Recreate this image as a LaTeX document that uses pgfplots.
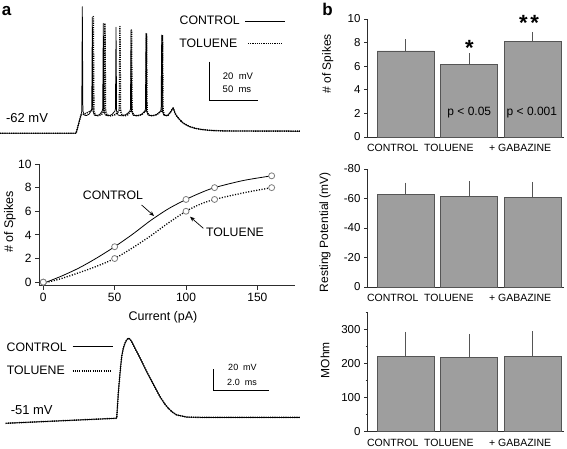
\documentclass[border=0pt]{standalone}
\usepackage{pgfplots}
\pgfplotsset{compat=1.18}
\usepackage{pgfplotstable}
\usepackage{fontspec}
\setmainfont{Liberation Sans}
\usetikzlibrary{arrows.meta}
\definecolor{barfill}{RGB}{158,158,158}
\definecolor{baredge}{RGB}{85,85,85}
\definecolor{axcol}{RGB}{45,45,45}
\definecolor{markgray}{RGB}{125,125,125}
\newcommand{\fs}[1]{\fontsize{#1}{#1}\selectfont}
\pgfplotsset{/pgf/number format/assume math mode=true}

% ---- panel a, top: spike trains (t in ms, V in mV)
\pgfplotstableread{
t V
0 -62
77.6 -62
82.7 -52.4
83.4 -50.5
84.0 4.1
84.6 -50.4
86.0 -52.5
88.0 -52.8
91.0 -52.0
93.0 -50.3
93.6 -49.3
94.2 -1.4
94.8 -50.4
96.2 -52.5
98.5 -52.8
101.5 -52.3
104.2 -50.5
104.8 -49.3
105.4 -4.6
106.0 -50.4
107.5 -52.5
110.5 -52.9
114.0 -52.3
117.2 -50.5
117.8 -49.3
118.4 -6.6
119.0 -50.4
120.5 -52.5
124.0 -52.9
128.5 -52.3
132.5 -50.5
133.1 -49.3
133.7 -8.1
134.3 -50.4
135.8 -52.5
139.5 -52.9
144.0 -52.3
147.8 -50.5
148.4 -49.3
149.0 -9.8
149.6 -50.4
151.1 -52.5
155.0 -52.9
159.5 -52.3
163.8 -50.5
164.4 -49.3
165.0 -10.7
165.6 -50.4
167.1 -52.5
170.5 -52.9
174.0 -51.0
176.2 -49.0
176.8 -48.8
178.6 -51.5
180.3 -53.0
183.7 -55.1
186.5 -56.5
191.0 -57.9
194.0 -58.6
199.0 -59.4
204.1 -59.9
210.0 -60.3
218.0 -60.6
230.0 -60.8
306.0 -60.9
}\trainctl

\pgfplotstableread{
t V
0 -62
77.6 -62
82.7 -52.4
86.0 -52.0
90.0 -51.0
93.5 -50.0
94.6 -49.3
95.2 -1.1
95.8 -50.4
97.3 -52.5
100.0 -52.8
103.5 -52.3
105.9 -50.5
106.5 -49.3
107.1 -4.6
107.7 -50.4
109.2 -52.5
113.0 -52.9
117.5 -52.3
121.2 -50.5
121.8 -49.3
122.4 -6.3
123.0 -50.4
124.5 -52.5
127.5 -52.9
130.5 -52.3
133.0 -50.5
133.6 -49.3
134.2 -8.1
134.8 -50.4
136.3 -52.5
140.0 -52.9
144.5 -52.3
148.3 -50.5
148.9 -49.3
149.5 -9.8
150.1 -50.4
151.6 -52.5
155.5 -52.9
160.0 -52.3
164.6 -50.5
165.2 -49.3
165.8 -10.7
166.4 -50.4
167.9 -52.5
171.0 -52.9
174.0 -51.0
176.2 -49.0
176.8 -48.8
178.6 -51.5
180.3 -53.0
183.7 -55.1
186.5 -56.5
191.0 -57.9
194.0 -58.6
199.0 -59.4
204.1 -59.9
210.0 -60.3
218.0 -60.6
230.0 -60.8
306.0 -60.9
}\traintol

% ---- panel a, bottom: single action potential (t in ms, V in mV)
\pgfplotstableread{
t V
0.2 -54.1
4.168 -49.4
4.225 -26.0
4.286 -7.4
4.346 8.2
4.404 16.0
4.46 20.5
4.525 23.8
4.582 25.4
4.64 24.6
4.704 22.2
4.761 19.1
5.0 7.0
5.239 -5.9
5.48 -17.8
5.714 -29.2
5.87 -35.5
6.011 -40.1
6.16 -43.7
6.311 -46.3
6.668 -48.3
7.2 -48.6
10.71 -48.6
}\apctl

\pgfplotstableread{
t V
0.2 -54.1
4.168 -49.4
4.225 -26.0
4.286 -7.4
4.346 8.2
4.404 16.0
4.46 20.5
4.525 23.8
4.582 25.4
4.64 24.6
4.704 22.2
4.761 19.1
5.0 7.0
5.239 -5.9
5.48 -17.8
5.714 -29.2
5.87 -35.5
6.011 -40.1
6.16 -43.7
6.311 -46.3
6.668 -48.3
7.2 -48.6
10.71 -48.6
}\aptol

% ---- panel a, middle: measured points and fitted curves
\pgfplotstableread{
I N
0 0
50 3
100 7
120 8
160 9
}\fictl
\pgfplotstableread{
I N
0 0
50 2
100 6
120 7
160 8
}\fitol
\pgfplotstableread{
I N
0 -0.1
12.5 0.5
25 1.2
37.5 2.05
50 3.0
62.5 4.05
75 5.2
87.5 6.2
100 7.0
110 7.55
120 8.0
140 8.6
160 9.0
}\fitctl
\pgfplotstableread{
I N
0 -0.1
12.5 0.3
25 0.8
37.5 1.35
50 2.0
62.5 2.9
75 3.9
87.5 5.0
100 6.0
110 6.6
120 7.0
140 7.55
160 8.0
}\fittol

\tikzset{
  solidtrace/.style={black, line width=0.75pt, line join=round},
  dottrace/.style={black, line width=1.45pt, dash pattern=on 1.1bp off 1.1bp, line join=round},
}
\pgfplotsset{
  barpanel/.style={
    scale only axis, width=196.3bp,
    xmin=0.402, xmax=3.49,
    axis x line=bottom, axis y line=left,
    axis line style={-, axcol, line width=0.8pt},
    tick style={axcol, line width=0.8pt},
    major tick length=3.7bp, minor tick length=2bp,
    tick align=outside,
    xtick={0.797,1.679,2.8},
    xticklabels={CONTROL,TOLUENE,+ GABAZINE},
    major x tick style={draw=none},
    xticklabel style={font=\fs{10.5bp}},
    yticklabel style={font=\fs{11.5bp}},
    ylabel style={font=\fs{12bp}},
    ybar, bar width=56.7bp,
    clip=false,
  },
  barplot/.style={fill=barfill, draw=baredge, line width=0.9pt,
    error bars/y explicit,
    error bars/error bar style={baredge, line width=0.8pt},
    error bars/error mark options={baredge, line width=0.8pt, mark size=2.2bp}},
}

\begin{document}
\begin{tikzpicture}
\path[use as bounding box] (0,0) rectangle (567bp,-449bp);

% panel letters
\node[anchor=base, inner sep=0, font=\fs{17bp}\bfseries] at (6.7bp,-15bp) {a};
\node[anchor=base, inner sep=0, font=\fs{17bp}\bfseries] at (327.5bp,-15bp) {b};

% ===== panel a top: spike trains
\begin{axis}[at={(0bp,-139bp)}, anchor=south west, x=0.98bp, y=1.915bp,
  xmin=0, xmax=306, ymin=-65, ymax=10, axis lines=none, clip=false]
\addplot[solidtrace] table[x=t, y=V] {\trainctl};
\addplot[dottrace] table[x=t, y=V] {\traintol};
\addplot[black, line width=0.8pt] coordinates {(213.6,-24.6) (213.6,-44.6) (263.6,-44.6)};
\end{axis}
\node[inner sep=0, font=\fs{12.3bp}] at (209.7bp,-20.7bp) {CONTROL};
\node[inner sep=0, font=\fs{12.3bp}] at (208.3bp,-43.3bp) {TOLUENE};
\draw[solidtrace] (245bp,-21.7bp) -- (285bp,-21.7bp);
\draw[dottrace] (248bp,-43.3bp) -- (283bp,-43.3bp);
\node[inner sep=0, font=\fs{9.5bp}] at (238bp,-76bp) {20~~mV};
\node[inner sep=0, font=\fs{9.5bp}] at (237bp,-89.3bp) {50~~ms};
\node[inner sep=0, font=\fs{13bp}] at (27bp,-118.3bp) {-62 mV};

% ===== panel a middle: spikes vs current
\begin{axis}[at={(39bp,-285.7bp)}, anchor=south west, scale only axis,
  width=255.5bp, height=121.7bp, xmin=-3, xmax=176, ymin=-0.3, ymax=10,
  axis x line=bottom, axis y line=left,
  axis line style={-, axcol, line width=0.8pt},
  tick style={axcol, line width=0.8pt}, tick align=outside, major tick length=4bp,
  xtick={0,50,100,150}, ytick={0,2,...,10},
  ticklabel style={font=\fs{12bp}},
  xlabel={Current (pA)}, ylabel={\# of Spikes},
  label style={font=\fs{12.5bp}},
  xlabel style={at={(axis description cs:0.4853,-0.257)}, anchor=center},
  ylabel style={at={(axis description cs:-0.1135,0.523)}, anchor=center},
  clip=false]
\addplot[black, line width=0.8pt, smooth] table[x=I, y=N] {\fitctl};
\addplot[black, line width=1.3pt, dash pattern=on 1.1bp off 1.6bp, smooth] table[x=I, y=N] {\fittol};
\addplot[only marks, mark=*, mark size=3bp, mark options={fill=white, draw=markgray, line width=0.8pt}] table[x=I, y=N] {\fictl};
\addplot[only marks, mark=*, mark size=3bp, mark options={fill=white, draw=markgray, line width=0.8pt}] table[x=I, y=N] {\fitol};
\node[inner sep=0, font=\fs{12.3bp}] at (axis cs:48.8,7.38) {CONTROL};
\node[inner sep=0, font=\fs{12.3bp}] at (axis cs:134.3,4.19) {TOLUENE};
\draw[-{Stealth[length=5bp,width=4bp]}, line width=0.7pt] (axis cs:68.9,6.53) -- (axis cs:77.6,5.6);
\draw[-{Stealth[length=5bp,width=4bp]}, line width=0.7pt] (axis cs:112.1,4.56) -- (axis cs:102.8,5.54);
\end{axis}

% ===== panel a bottom: single action potential
\begin{axis}[at={(0bp,-429.6bp)}, anchor=south west, x=28bp, y=1.07bp,
  xmin=0, xmax=10.8, ymin=-60, ymax=30, axis lines=none, clip=false]
\addplot[solidtrace] table[x=t, y=V] {\apctl};
\addplot[dottrace] table[x=t, y=V] {\aptol};
\addplot[black, line width=0.8pt] coordinates {(7.618,-3.6) (7.618,-23.6) (9.618,-23.6)};
\end{axis}
\node[inner sep=0, font=\fs{12.3bp}] at (36.7bp,-347.7bp) {CONTROL};
\node[inner sep=0, font=\fs{12.3bp}] at (35.8bp,-370.7bp) {TOLUENE};
\draw[solidtrace] (72.7bp,-346.7bp) -- (112.7bp,-346.7bp);
\draw[dottrace] (72.7bp,-371bp) -- (111bp,-371bp);
\node[inner sep=0, font=\fs{9bp}] at (242.5bp,-367.3bp) {20~~mV};
\node[inner sep=0, font=\fs{9bp}] at (242bp,-382.3bp) {2.0~~ms};
\node[inner sep=0, font=\fs{13bp}] at (31.7bp,-410bp) {-51 mV};

% ===== panel b top: number of spikes
\begin{axis}[barpanel, at={(367.7bp,-137bp)}, anchor=south west, height=118bp,
  ymin=0, ymax=10, ytick={0,2,...,10}, ylabel={\# of Spikes},
  ylabel style={at={(axis description cs:-0.204,0.619)}, anchor=center}]
\addplot[barplot, error bars/y dir=plus] coordinates {(1,7.29) +- (0,0.79) (2,6.16) +- (0,0.73) (3,8.10) +- (0,0.63)};
\node[inner sep=0, font=\fs{22bp}\bfseries] at (axis cs:2,7.55) {*};
\node[inner sep=0, font=\fs{22bp}\bfseries] at (axis cs:2.94,9.7) {*\hspace{2.5bp}*};
\node[inner sep=0, font=\fs{12bp}] at (axis cs:2,2.03) {p < 0.05};
\node[inner sep=0, font=\fs{12bp}] at (axis cs:2.985,2.03) {p < 0.001};
\end{axis}

% ===== panel b middle: resting potential
\begin{axis}[barpanel, at={(367.7bp,-287bp)}, anchor=south west, height=118bp,
  ymin=-80, ymax=0, y dir=reverse,
  ytick={0,-20,-40,-60,-80}, yticklabels={0,-20,-40,-60,-80},
  ylabel={Resting Potential (mV)},
  ylabel style={at={(axis description cs:-0.2175,0.4636)}, anchor=center}]
\addplot[barplot, error bars/y dir=minus] coordinates {(1,-62.8) +- (0,6.4) (2,-61.5) +- (0,8.8) (3,-60.6) +- (0,9.2)};
\end{axis}

% ===== panel b bottom: input resistance
\begin{axis}[barpanel, at={(367.7bp,-431.7bp)}, anchor=south west, height=119.5bp,
  ymin=0, ymax=350, ytick={0,100,200,300}, minor ytick={50,150,250,350},
  ylabel={MOhm},
  ylabel style={at={(axis description cs:-0.2175,0.6)}, anchor=center}]
\addplot[barplot, error bars/y dir=plus] coordinates {(1,219.7) +- (0,66) (2,216.8) +- (0,63.6) (3,220.9) +- (0,67.4)};
\end{axis}
\end{tikzpicture}
\end{document}
